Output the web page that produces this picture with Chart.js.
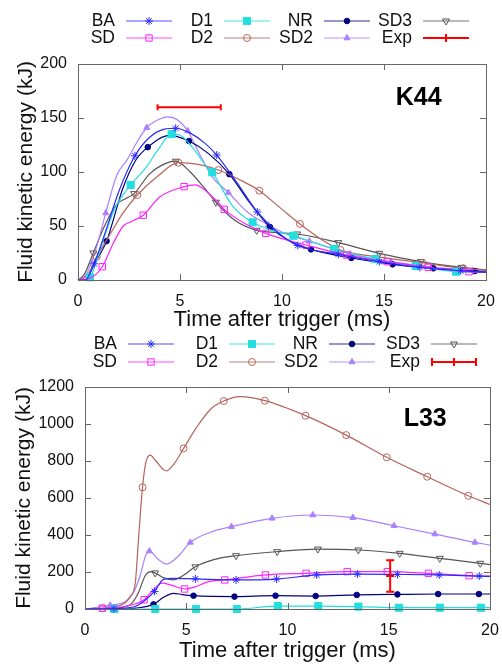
<!DOCTYPE html>
<html>
<head>
<meta charset="utf-8">
<script src="https://cdn.jsdelivr.net/npm/chart.js@4.4.1/dist/chart.umd.min.js"></script>
<style>
  body { margin: 0; background: #fff; }
  .box { position: absolute; left: 0; width: 502px; }
</style>
</head>
<body>
<div class="box" style="top:0;height:340px"><canvas id="k44"></canvas></div>
<div class="box" style="top:330px;height:334px"><canvas id="l33"></canvas></div>
<script>
// tick labels
var X_TICKS = [0, 5, 10, 15, 20];
var K44_Y_TICKS = [0, 50, 100, 150, 200];
var L33_Y_TICKS = [0, 200, 400, 600, 800, 1000, 1200];

// ---- K44 : [time ms, energy kJ] along each curve, plus the times gnuplot put a marker on
var K44_BA = [[0,0],[0.35,0],[0.79,15],[1.3,42],[2.0,82],[2.79,115],[3.5,132],[4.2,139.5],[4.79,140.5],[5.5,136],[6.2,127],[6.8,115.7],[7.8,90],[8.79,63],[9.8,44],[10.77,32],[12.76,23.8],[14.77,17],[16.76,11.7],[18.76,8.6],[20,7]];
var K44_BA_MK = [0.79,2.79,4.79,6.8,8.79,10.77,12.76,14.77,16.76,18.76];
var K44_SD = [[0,0],[0.5,1],[1.19,12.3],[1.73,34],[2.22,50],[2.6,54],[3.2,60],[4.02,77],[5.2,86.4],[5.74,88],[6.3,82],[6.8,73],[7.17,65.4],[8.2,52],[9.2,43.2],[11.18,32.4],[13.17,23],[15.16,17],[17.17,11.7],[19.17,7.7],[20,7]];
var K44_SD_MK = [1.19,3.2,5.2,7.17,9.2,11.18,13.17,15.16,17.17,19.17];
var K44_D1 = [[0,0],[0.3,0],[0.59,2.5],[1.2,35],[1.8,66],[2.58,88],[3.37,105],[3.9,120],[4.59,135],[5.0,134],[5.6,123],[6.3,105],[6.58,99.7],[7.6,68],[8.56,53.4],[9.5,46],[10.56,41],[12.55,28.7],[14.56,19.4],[16.55,13],[18.53,7.7],[20,7]];
var K44_D1_MK = [0.59,2.58,4.59,6.58,8.56,10.56,12.55,14.56,16.55,18.53];
var K44_D2 = [[0,0],[0.45,4],[0.92,21.6],[1.5,40],[2.2,62],[2.91,78.7],[3.9,96],[4.92,108.6],[5.9,107],[6.88,101.8],[7.9,93],[8.89,82.7],[9.9,67],[10.88,51.9],[11.9,38],[12.87,27.8],[14.89,21],[16.88,16],[18.89,10.8],[20,9]];
var K44_D2_MK = [0.92,2.91,4.92,6.88,8.89,10.88,12.87,14.89,16.88,18.89];
var K44_NR = [[0,0],[0.35,0],[0.8,15],[1.4,36],[2.2,85],[2.8,110],[3.42,123],[4.5,134],[5.44,128.7],[6.4,117],[7.42,98],[8.4,72],[9.41,49],[10.4,36],[11.42,28.4],[13.4,20.4],[15.42,14.5],[17.42,10.8],[19.46,8.3],[20,7.8]];
var K44_NR_MK = [1.4,3.42,5.44,7.42,9.41,11.42,13.4,15.42,17.42,19.46];
var K44_SD2 = [[0,0],[0.4,5],[0.9,30],[1.36,62],[1.9,97],[2.4,111],[2.9,128],[3.37,141],[4.0,149],[4.4,151],[4.9,148],[5.38,138],[6.0,115],[6.6,95],[7.37,81],[8.3,63],[9.33,51],[10.3,42],[11.34,36],[13.34,24],[15.34,17],[17.34,12],[19.34,9],[20,8]];
var K44_SD2_MK = [1.36,3.37,5.38,7.37,9.33,11.34,13.34,15.34,17.34,19.34];
var K44_SD3 = [[0,0],[0.3,5],[0.75,25],[1.3,50],[1.9,70],[2.3,75],[2.75,80],[3.5,98],[4.3,108],[4.79,110],[5.5,100],[6.2,85],[6.76,72],[7.7,55],[8.76,46],[9.7,44],[10.75,42.6],[12.76,34.6],[14.77,24.7],[16.8,17],[18.8,11.7],[20,9.5]];
var K44_SD3_MK = [0.75,2.75,4.79,6.76,8.76,10.75,12.76,14.77,16.8,18.8];
var K44_EXP = [5.45, 160];     // centre
var K44_EXP_XERR = 1.55;       // ms

// ---- L33
var L33_BA = [[0,0],[1.43,2],[2.5,15],[3.0,50],[3.43,95],[3.88,160],[4.4,166],[5.45,163],[7.46,157],[9.46,162],[11.44,184],[13.45,189],[15.43,187],[17.49,184],[19.47,178],[20,176]];
var L33_BA_MK = [1.43,3.43,5.45,7.46,9.46,11.44,13.45,15.43,17.49,19.47];
var L33_SD = [[0,0],[0.86,4],[2.0,15],[2.92,50],[3.3,95],[3.8,140],[4.3,128],[4.92,108],[5.4,118],[6.1,148],[6.9,157],[8.91,184],[10.92,193],[12.95,202],[14.93,202],[16.96,193],[18.97,180],[20,178]];
var L33_SD_MK = [0.86,2.92,4.92,6.9,8.91,10.92,12.95,14.93,16.96,18.97];
var L33_D1 = [[0,0],[1.45,0],[3.47,0],[5.48,0],[7.5,0],[9.52,16],[11.52,16],[13.5,13],[15.5,7],[17.52,7],[19.55,7],[20,7]];
var L33_D1_MK = [1.45,3.47,5.48,7.5,9.52,11.52,13.5,15.5,17.52,19.55];
var L33_D2 = [[0,0],[0.86,4],[1.6,15],[2.0,35],[2.23,67],[2.48,139],[2.64,373],[2.84,658],[3.0,790],[3.22,832],[3.5,800],[4.0,746],[4.4,785],[4.87,868],[5.5,980],[6.2,1080],[6.85,1124],[7.67,1148],[8.88,1126],[10.89,1045],[12.9,940],[14.9,820],[16.9,715],[18.93,612],[20,565]];
var L33_D2_MK = [0.86,2.84,4.87,6.85,8.88,10.89,12.9,14.9,16.9,18.93];
var L33_NR = [[0,0],[1.38,0],[2.5,5],[3.38,25],[3.9,65],[4.37,85],[4.8,78],[5.36,72],[7.38,67],[9.41,72],[11.39,70],[13.42,76],[15.43,79],[17.44,81],[19.45,81],[20,81]];
var L33_NR_MK = [1.38,3.38,5.36,7.38,9.41,11.39,13.42,15.43,17.44,19.45];
var L33_SD2 = [[0,0],[1.24,20],[2.0,40],[2.4,90],[2.72,180],[3.0,290],[3.18,313],[3.6,270],[4.04,243],[4.6,285],[5.2,360],[6.2,415],[7.23,445],[9.24,490],[11.25,508],[13.23,494],[15.26,450],[17.28,405],[19.26,360],[20,345]];
var L33_SD2_MK = [1.24,3.18,5.2,7.23,9.24,11.25,13.23,15.26,17.28,19.26];
var L33_SD3 = [[0,0],[1.46,5],[2.2,20],[2.6,80],[3.0,185],[3.27,202],[3.46,195],[3.9,168],[4.37,157],[4.9,185],[5.45,228],[6.4,268],[7.46,288],[9.49,310],[11.5,324],[13.5,319],[15.54,301],[17.52,274],[19.52,247],[20,240]];
var L33_SD3_MK = [1.46,3.46,5.45,7.46,9.49,11.5,13.5,15.54,17.52,19.52];
var L33_EXP = [15.07, 178];
var L33_EXP_YERR = 85;         // kJ

var FONT = '"Liberation Sans", Arial, sans-serif';
Chart.defaults.font.family = FONT;
Chart.defaults.color = '#111';

// gnuplot-ish line styles
var STYLE = {
    BA:  { color: '#2a2aff', point: 'star',     r: 4,   fill: true },
    SD:  { color: '#ff22ff', point: 'rect',     r: 4.5, fill: false },
    D1:  { color: '#22dede', point: 'rect',     r: 5,   fill: true },
    D2:  { color: '#b5645c', point: 'circle',   r: 3.5, fill: false },
    NR:  { color: '#000080', point: 'circle',   r: 2.8, fill: true },
    SD2: { color: '#aa80ff', point: 'triangle', r: 3.5, fill: true },
    SD3: { color: '#555555', point: 'triangle', r: 4,   fill: false, rot: 180 }
};
var LEGEND_ORDER = ['BA', 'D1', 'NR', 'SD3', 'SD', 'D2', 'SD2', 'Exp'];

function makeSet(name, pts, marks) {
    var s = STYLE[name];
    return {
        label: name,
        data: pts.map(function (p) { return { x: p[0], y: p[1] }; }),
        borderColor: s.color,
        borderWidth: 1.2,
        pointStyle: s.point,
        pointRotation: s.rot || 0,
        pointBackgroundColor: s.fill ? s.color : 'rgba(0,0,0,0)',
        pointBorderColor: s.color,
        pointBorderWidth: 1,
        pointRadius: function (c) { return marks.indexOf(c.raw.x) >= 0 ? s.r : 0; },
        pointHoverRadius: 0,
        cubicInterpolationMode: 'monotone',
        clip: 6
    };
}

var frame = {
    id: 'frame',
    afterDatasetsDraw: function (chart, args, o) {
        var ctx = chart.ctx, a = chart.chartArea, x = chart.scales.x, y = chart.scales.y;
        ctx.save();
        ctx.strokeStyle = '#666';
        ctx.lineWidth = 1;
        ctx.strokeRect(Math.round(a.left) + 0.5, Math.round(a.top) + 0.5,
                       Math.round(a.right - a.left), Math.round(a.bottom - a.top));
        ctx.beginPath();
        x.ticks.forEach(function (t) {
            var px = Math.round(x.getPixelForValue(t.value)) + 0.5;
            ctx.moveTo(px, a.bottom); ctx.lineTo(px, a.bottom - 6);
            ctx.moveTo(px, a.top); ctx.lineTo(px, a.top + 6);
        });
        y.ticks.forEach(function (t) {
            var py = Math.round(y.getPixelForValue(t.value)) + 0.5;
            ctx.moveTo(a.left, py); ctx.lineTo(a.left + 6, py);
            ctx.moveTo(a.right, py); ctx.lineTo(a.right - 6, py);
        });
        ctx.stroke();

        // experimental point with error bar
        var e = o.exp;
        var cx = x.getPixelForValue(e.at[0]), cy = y.getPixelForValue(e.at[1]);
        ctx.strokeStyle = '#ff0000';
        ctx.lineWidth = 2;
        ctx.beginPath();
        if (e.xerr) {
            var x0 = x.getPixelForValue(e.at[0] - e.xerr), x1 = x.getPixelForValue(e.at[0] + e.xerr);
            ctx.moveTo(x0, cy); ctx.lineTo(x1, cy);
            ctx.moveTo(x0, cy - 3); ctx.lineTo(x0, cy + 3);
            ctx.moveTo(x1, cy - 3); ctx.lineTo(x1, cy + 3);
        } else {
            var y0 = y.getPixelForValue(e.at[1] - e.yerr), y1 = y.getPixelForValue(e.at[1] + e.yerr);
            ctx.moveTo(cx, y0); ctx.lineTo(cx, y1);
            ctx.moveTo(cx - 4, y0); ctx.lineTo(cx + 4, y0);
            ctx.moveTo(cx - 4, y1); ctx.lineTo(cx + 4, y1);
            ctx.moveTo(cx - 4, cy); ctx.lineTo(cx + 4, cy);
        }
        ctx.stroke();

        // case name
        ctx.fillStyle = '#000';
        ctx.font = 'bold 25px ' + FONT;
        ctx.textAlign = 'center';
        ctx.textBaseline = 'middle';
        ctx.fillText(o.tag.text, x.getPixelForValue(o.tag.at[0]), y.getPixelForValue(o.tag.at[1]));
        ctx.restore();
    }
};

// gnuplot style key: label right-aligned, then a line sample with its marker
var gpLegend = {
    id: 'gpLegend',
    afterDraw: function (chart, args, o) {
        var ctx = chart.ctx;
        ctx.save();
        ctx.font = '17.5px ' + FONT;
        ctx.textAlign = 'right';
        ctx.textBaseline = 'middle';
        LEGEND_ORDER.forEach(function (name, i) {
            var tx = o.cols[i % 4], ty = o.rows[Math.floor(i / 4)];
            var x0 = tx + 11, x1 = tx + 57, xm = (x0 + x1) / 2;
            ctx.fillStyle = '#111';
            ctx.fillText(name, tx, ty);
            if (name === 'Exp') {
                ctx.strokeStyle = '#ff0000';
                ctx.lineWidth = 2;
                ctx.beginPath();
                ctx.moveTo(x0, ty); ctx.lineTo(x1, ty);
                ctx.moveTo(xm, ty - 4); ctx.lineTo(xm, ty + 4);
                if (o.expCaps) {
                    ctx.moveTo(x0 + 1, ty - 4); ctx.lineTo(x0 + 1, ty + 4);
                    ctx.moveTo(x1 - 1, ty - 4); ctx.lineTo(x1 - 1, ty + 4);
                }
                ctx.stroke();
                return;
            }
            var s = STYLE[name];
            ctx.globalAlpha = 0.55;
            ctx.strokeStyle = s.color;
            ctx.lineWidth = 1.5;
            ctx.beginPath();
            ctx.moveTo(x0, ty); ctx.lineTo(x1, ty);
            ctx.stroke();
            ctx.globalAlpha = 1;
            ctx.lineWidth = 1;
            ctx.fillStyle = s.fill ? s.color : 'rgba(0,0,0,0)';
            Chart.helpers.drawPoint(ctx, { pointStyle: s.point, radius: s.r, rotation: s.rot || 0, borderWidth: 1 }, xm, ty);
        });
        ctx.restore();
    }
};

function loadChart(id, series, o) {
    var names = ['BA', 'SD', 'D1', 'D2', 'NR', 'SD2', 'SD3'];
    return new Chart(document.getElementById(id), {
        type: 'line',
        data: {
            datasets: names.map(function (n, i) { return makeSet(n, series[i][0], series[i][1]); })
        },
        options: {
            responsive: true,
            maintainAspectRatio: false,
            animation: false,
            events: [],
            layout: { padding: { top: o.top, right: o.right, left: 0, bottom: 0 } },
            scales: {
                x: {
                    type: 'linear', min: 0, max: 20,
                    afterBuildTicks: function (s) { s.ticks = X_TICKS.map(function (v) { return { value: v }; }); },
                    // fixed box; labels may hang over the plot edges like in gnuplot
                    afterFit: function (s) { s.height = o.xh; s.paddingLeft = 0; s.paddingRight = 0; },
                    grid: { display: false, drawTicks: false },
                    border: { display: false },
                    ticks: { font: { size: 16 }, padding: 12, maxRotation: 0, callback: function (v) { return String(v); } },
                    title: { display: true, text: 'Time after trigger (ms)', font: { size: 22 }, padding: { top: 0, bottom: o.xtPad } }
                },
                y: {
                    type: 'linear', min: 0, max: o.ymax,
                    afterBuildTicks: function (s) { s.ticks = o.yticks.map(function (v) { return { value: v }; }); },
                    afterFit: function (s) { s.width = o.yw; s.paddingTop = 0; s.paddingBottom = 0; },
                    grid: { display: false, drawTicks: false },
                    border: { display: false },
                    ticks: { font: { size: 16 }, padding: 11, callback: function (v) { return String(v); } },
                    title: { display: true, text: 'Fluid kinetic energy (kJ)', font: { size: 21 }, padding: { top: o.ytPad, bottom: 0 } }
                }
            },
            plugins: {
                legend: { display: false },
                tooltip: { enabled: false },
                frame: { exp: o.exp, tag: o.tag },
                gpLegend: { cols: o.cols, rows: o.rows, expCaps: o.expCaps }
            }
        },
        plugins: [frame, gpLegend]
    });
}

loadChart('k44', [
    [K44_BA, K44_BA_MK], [K44_SD, K44_SD_MK], [K44_D1, K44_D1_MK], [K44_D2, K44_D2_MK],
    [K44_NR, K44_NR_MK], [K44_SD2, K44_SD2_MK], [K44_SD3, K44_SD3_MK]
], {
    top: 64, right: 16, xh: 60, yw: 78, ymax: 200, yticks: K44_Y_TICKS, xtPad: 7, ytPad: 14,
    cols: [115, 213, 313, 412], rows: [21, 38], expCaps: false,
    exp: { at: K44_EXP, xerr: K44_EXP_XERR },
    tag: { text: 'K44', at: [16.7, 168] }
});

loadChart('l33', [
    [L33_BA, L33_BA_MK], [L33_SD, L33_SD_MK], [L33_D1, L33_D1_MK], [L33_D2, L33_D2_MK],
    [L33_NR, L33_NR_MK], [L33_SD2, L33_SD2_MK], [L33_SD3, L33_SD3_MK]
], {
    top: 57, right: 12, xh: 55, yw: 85, ymax: 1200, yticks: L33_Y_TICKS, xtPad: 0, ytPad: 12,
    cols: [117, 218, 318, 420], rows: [14, 32], expCaps: true,
    exp: { at: L33_EXP, yerr: L33_EXP_YERR },
    tag: { text: 'L33', at: [16.8, 1027] }
});
</script>
</body>
</html>
